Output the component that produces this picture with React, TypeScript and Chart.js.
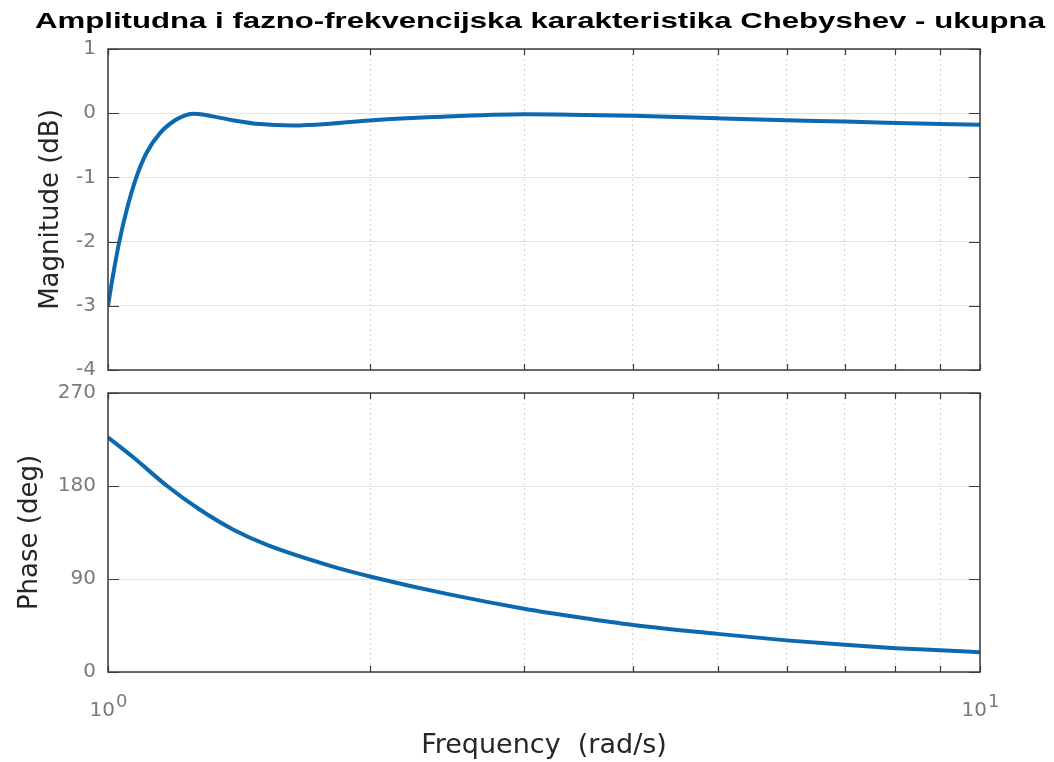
import React, { useEffect, useRef } from "react";
import { Chart, registerables } from "chart.js";

Chart.register(...registerables);

// ---- data ----
const TITLE = "Amplitudna i fazno-frekvencijska karakteristika Chebyshev - ukupna";
const MAG_LABEL = "Magnitude (dB)";
const PHASE_LABEL = "Phase (deg)";
const FREQ_LABEL = "Frequency  (rad/s)";

const MAG_FREQ = [1.0, 1.0141, 1.0303, 1.0509, 1.0776, 1.1069, 1.1471, 1.1935, 1.222, 1.2514, 1.285, 1.319, 1.391, 1.494, 1.63, 1.811, 2.013, 2.359, 3.008, 4.0, 5.0, 6.0, 7.0, 9.0, 10.0];
const MAG_DB = [-3.0, -2.5, -2.0, -1.5, -1.0, -0.62, -0.31, -0.11, -0.04, -0.01, -0.02, -0.05, -0.11, -0.17, -0.19, -0.16, -0.11, -0.06, -0.015, -0.04, -0.08, -0.11, -0.13, -0.17, -0.18];

const PHASE_FREQ = [1.0, 1.068, 1.169, 1.275, 1.391, 1.522, 1.811, 2.008, 2.447, 3.0, 3.478, 4.0, 5.0, 6.0, 7.0, 8.0, 9.0, 10.0];
const PHASE_DEG = [227, 208, 180, 157, 138, 123, 102, 92, 75.6, 61.3, 52.7, 45.5, 36.9, 30.6, 26.3, 23.1, 21.0, 19.1];

const MAG_TICKS = [-4, -3, -2, -1, 0, 1];
const PHASE_TICKS = [0, 90, 180, 270];
const X_GRID = [1, 2, 3, 4, 5, 6, 7, 8, 9, 10];
const X_LABEL_VALUES = [1, 10];
const X_LABEL_BASES = ["10", "10"];
const X_LABEL_EXPONENTS = ["0", "1"];

// ---- style ----
const LINE_COLOR = "#0b69b0";
const TICK_COLOR = "#7a7a7a";
const LABEL_COLOR = "#262626";
const AXIS_COLOR = "#3a3a3a";
const FONT = "DejaVu Sans";

const boxPlugin = {
  id: "matlabBox",
  afterDraw(chart: any) {
    const { ctx, chartArea, scales } = chart;
    const { left, right, top, bottom } = chartArea;
    const x = scales.x;
    const y = scales.y;
    ctx.save();
    ctx.strokeStyle = AXIS_COLOR;
    ctx.lineWidth = 1.2;
    ctx.beginPath();
    x.ticks.forEach((t: any) => {
      const px = Math.round(x.getPixelForValue(t.value)) + 0.5;
      ctx.moveTo(px, bottom);
      ctx.lineTo(px, bottom - 6);
      ctx.moveTo(px, top);
      ctx.lineTo(px, top + 6);
    });
    y.ticks.forEach((t: any) => {
      const py = Math.round(y.getPixelForValue(t.value)) + 0.5;
      ctx.moveTo(left, py);
      ctx.lineTo(left + 11, py);
      ctx.moveTo(right, py);
      ctx.lineTo(right - 11, py);
    });
    ctx.stroke();
    ctx.lineWidth = 1.5;
    ctx.strokeRect(left, top, right - left, bottom - top);
    ctx.restore();
  },
};

const titlePlugin = {
  id: "stretchedTitle",
  afterDraw(chart: any) {
    const { ctx } = chart;
    ctx.save();
    ctx.font = 'bold 21.5px "Liberation Sans"';
    ctx.fillStyle = "#000000";
    ctx.textBaseline = "alphabetic";
    ctx.textAlign = "center";
    const w = ctx.measureText(TITLE).width;
    const sx = 1010 / w;
    ctx.translate(540, 28);
    ctx.scale(sx, 1);
    ctx.fillText(TITLE, 0, 0);
    ctx.restore();
  },
};

const xLabelPlugin = {
  id: "powerLabels",
  afterDraw(chart: any) {
    const { ctx } = chart;
    const x = chart.scales.x;
    const baseY = chart.chartArea.bottom + 44;
    ctx.save();
    ctx.fillStyle = TICK_COLOR;
    ctx.textBaseline = "alphabetic";
    ctx.textAlign = "left";
    X_LABEL_VALUES.forEach((v, i) => {
      const px = x.getPixelForValue(v);
      ctx.font = `20px "${FONT}"`;
      const bw = ctx.measureText(X_LABEL_BASES[i]).width;
      ctx.font = `18px "${FONT}"`;
      const ew = ctx.measureText(X_LABEL_EXPONENTS[i]).width;
      const start = px - (bw + ew) / 2;
      ctx.font = `20px "${FONT}"`;
      ctx.fillText(X_LABEL_BASES[i], start, baseY);
      ctx.font = `18px "${FONT}"`;
      ctx.fillText(X_LABEL_EXPONENTS[i], start + bw + 1, baseY - 9);
    });
    ctx.restore();
  },
};

function xScale(showTitle: boolean, height: number) {
  return {
    type: "logarithmic",
    min: 1,
    max: 10,
    afterBuildTicks: (s: any) => {
      s.ticks = X_GRID.map((v) => ({ value: v }));
    },
    afterFit: (s: any) => {
      s.height = height;
    },
    ticks: { display: false },
    grid: { color: "#d4d4d4", lineWidth: 1, drawTicks: false, borderDash: [2, 3] },
    border: { display: false, dash: [2, 3] },
    title: {
      display: showTitle,
      text: FREQ_LABEL,
      color: LABEL_COLOR,
      font: { family: FONT, size: 27 },
      padding: { top: 0, bottom: 0 },
    },
  };
}

function yScale(min: number, max: number, ticks: number[], label: string, titlePad: number) {
  return {
    type: "linear",
    min,
    max,
    afterBuildTicks: (s: any) => {
      s.ticks = ticks.map((v) => ({ value: v }));
    },
    afterFit: (s: any) => {
      s.width = 108;
    },
    grid: { color: "#e2e2e2", lineWidth: 1, drawTicks: false },
    border: { display: false },
    ticks: { color: TICK_COLOR, font: { family: FONT, size: 20 }, padding: 12 },
    title: {
      display: true,
      text: label,
      color: LABEL_COLOR,
      font: { family: FONT, size: 26 },
      padding: { top: titlePad, bottom: 0 },
    },
  };
}

function lineDataset(xs: number[], ys: number[]) {
  return {
    data: xs.map((f, i) => ({ x: f, y: ys[i] })),
    borderColor: LINE_COLOR,
    backgroundColor: LINE_COLOR,
    borderWidth: 4,
    pointRadius: 0,
    fill: false,
    cubicInterpolationMode: "monotone",
  };
}

export default function App() {
  const topRef = useRef<HTMLCanvasElement>(null);
  const botRef = useRef<HTMLCanvasElement>(null);

  useEffect(() => {
    const common = {
      responsive: false,
      animation: false,
      events: [],
      plugins: { legend: { display: false }, tooltip: { enabled: false }, title: { display: false } },
    };
    const top = new Chart(topRef.current as HTMLCanvasElement, {
      type: "line",
      data: { datasets: [lineDataset(MAG_FREQ, MAG_DB)] } as any,
      options: {
        ...common,
        layout: { padding: { left: 0, right: 74, top: 49, bottom: 25 } },
        scales: {
          x: xScale(false, 0),
          y: yScale(-4, 1, MAG_TICKS, MAG_LABEL, 36),
        },
      } as any,
      plugins: [boxPlugin, titlePlugin],
    });
    const bot = new Chart(botRef.current as HTMLCanvasElement, {
      type: "line",
      data: { datasets: [lineDataset(PHASE_FREQ, PHASE_DEG)] } as any,
      options: {
        ...common,
        layout: { padding: { left: 0, right: 74, top: 27, bottom: 0 } },
        scales: {
          x: xScale(true, 90),
          y: yScale(0, 270, PHASE_TICKS, PHASE_LABEL, 15),
        },
      } as any,
      plugins: [boxPlugin, xLabelPlugin],
    });
    return () => {
      top.destroy();
      bot.destroy();
    };
  }, []);

  return (
    <div style={{ position: "absolute", left: 0, top: 0, width: 1054, height: 762, background: "#ffffff", overflow: "hidden" }}>
      <canvas ref={botRef} width={1054} height={396} style={{ position: "absolute", left: 0, top: 366 }} />
      <canvas ref={topRef} width={1054} height={395} style={{ position: "absolute", left: 0, top: 0 }} />
    </div>
  );
}
